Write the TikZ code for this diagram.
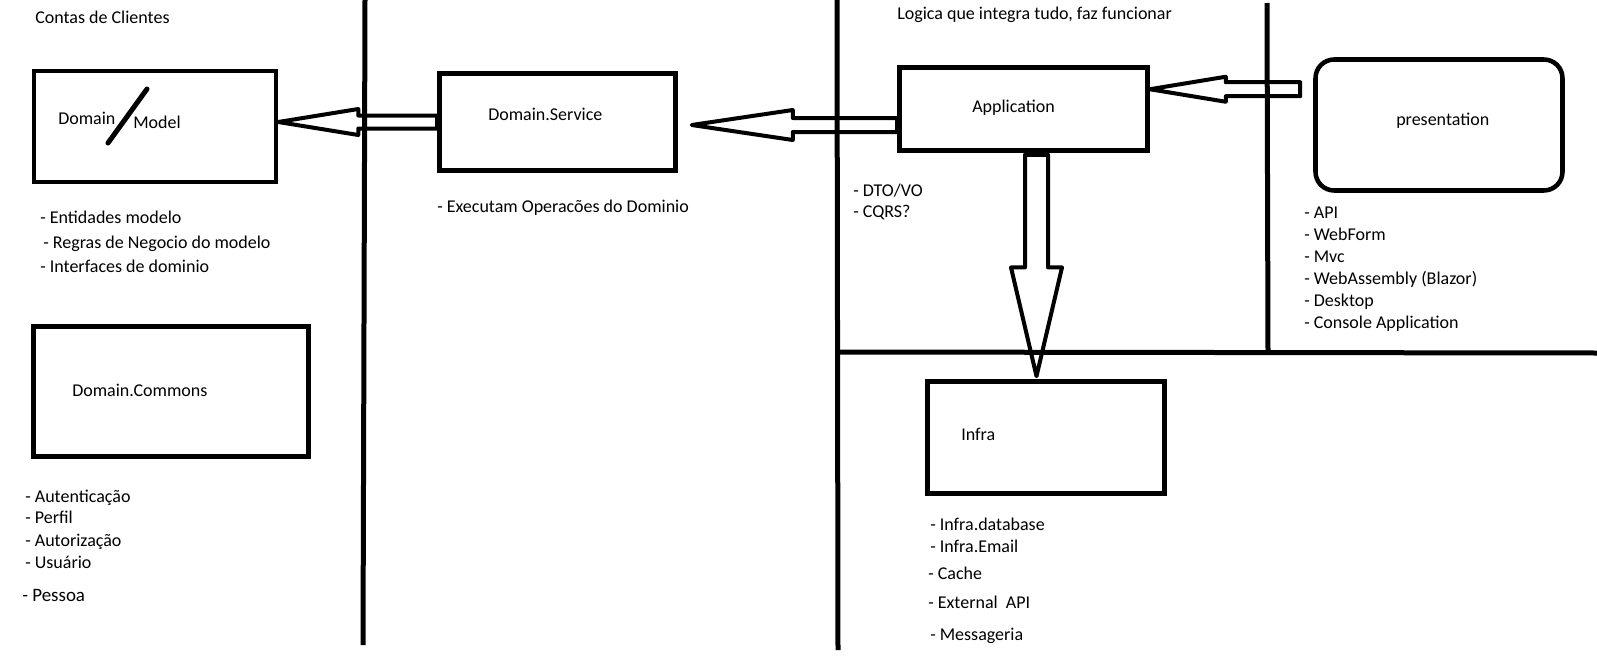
\documentclass[tikz,border=0pt]{standalone}
\usepackage{fontspec}
\setmainfont{Carlito}
\usetikzlibrary{calc}

\newlength\pxu
\setlength\pxu{0.75pt}

\tikzset{
  box/.style={draw, line width=3.4pt, inner sep=0pt},
  txt/.style={anchor=base west, inner sep=0pt, font=\fontsize{13.5}{16}\selectfont},
  hollow/.style={draw, line width=3pt, line join=round},
  wall/.style={line width=3.75pt},
}

\begin{document}
\begin{tikzpicture}[x=0.75pt,y=-0.75pt]
\fill[white] (0,0) rectangle (1597,657);
\useasboundingbox (0,0) rectangle (1597,657);

% walls between the layers
\draw[wall] (365,0) -- (363,645);
\draw[wall] (837,0) -- (838,650);
\draw[wall] (1267,3) -- (1268,352);
\draw[wall] (838,352) -- (1597,353);

% boxes
\node[box, minimum width=242*\pxu, minimum height=111*\pxu] (model) at (155,126.5) {};
\node[box, minimum width=275*\pxu, minimum height=130*\pxu] (commons) at (171,391.5) {};
\node[box, minimum width=236*\pxu, minimum height=97*\pxu] (svc) at (557.5,122) {};
\node[box, minimum width=248*\pxu, minimum height=83*\pxu] (app) at (1023.5,109) {};
\node[box, rounded corners=14pt, minimum width=247*\pxu, minimum height=131*\pxu] (pres) at (1439,125) {};
\node[box, minimum width=237*\pxu, minimum height=112*\pxu] (infra) at (1046,437.5) {};

% box labels
\node[txt] (lmodelA) at (58,124) {Domain};
\node[txt] (lmodelB) at (133,128) {Model};
\draw[line width=3.75pt, line cap=round] (147,89) -- (108,143);
\node[txt] (lcommons) at (72,396) {Domain.Commons};
\node[txt] (lsvc) at (488,120) {Domain.Service};
\node[txt] (lapp) at (972,112) {Application};
\node[txt] (lpres) at (1396,125) {presentation};
\node[txt] (linfra) at (961,440) {Infra};

% hollow arrows
\coordinate (t1) at (model.east |- svc.west);
\draw[hollow] (t1) -- ($(t1)+(80,-13)$) -- ($(t1)+(80,-6.5)$) -- ($(svc.west)+(0,-6.5)$)
  -- ($(svc.west)+(0,6.5)$) -- ($(t1)+(80,6.5)$) -- ($(t1)+(80,13)$) -- cycle;

\coordinate (t2) at ($(svc.east)+(14,3)$);
\draw[hollow] (t2) -- ($(t2)+(101,-15)$) -- ($(t2)+(101,-7)$) -- ($(app.west |- t2)+(0,-7)$)
  -- ($(app.west |- t2)+(0,7)$) -- ($(t2)+(101,7)$) -- ($(t2)+(101,15)$) -- cycle;

\coordinate (t3) at ($(app.north east)+(0,24)$);
\draw[hollow] (t3) -- ($(t3)+(76,-12.5)$) -- ($(t3)+(76,-7)$) -- ($(pres.west |- t3)+(-13,-7)$)
  -- ($(pres.west |- t3)+(-13,7)$) -- ($(t3)+(76,7)$) -- ($(t3)+(76,12.5)$) -- cycle;

\coordinate (s4) at ($(app.south)+(13,0)$);
\coordinate (t4) at ($(s4 |- infra.north)+(0,-3)$);
\draw[hollow] ($(s4)+(-11.5,2)$) -- ($(s4)+(-11.5,114.7)$) -- ($(s4)+(-25.5,114.7)$) -- (t4)
  -- ($(s4)+(25.5,114.7)$) -- ($(s4)+(11.5,114.7)$) -- ($(s4)+(11.5,2)$) -- cycle;

% notes
\node[txt] (title1) at (35,23) {Contas de Clientes};
\node[txt] (title2) at (897,19) {Logica que integra tudo, faz funcionar};

\node[txt] (m1) at (40,223) {- Entidades modelo};
\node[txt] (m2) at (43,248) {- Regras de Negocio do modelo};
\node[txt] (m3) at (40,272) {- Interfaces de dominio};

\node[txt] (c1) at (25,502) {- Autenticação};
\node[txt] (c2) at (25,523) {- Perfil};
\node[txt] (c3) at (25,546) {- Autorização};
\node[txt] (c4) at (25,568) {- Usuário};
\node[txt, font=\fontsize{14.2}{17}\selectfont] (c5) at (22,601) {- Pessoa};

\node[txt] (s1) at (437,212) {- Executam Operacões do Dominio};

\node[txt] (a1) at (853,196) {- DTO/VO};
\node[txt] (a2) at (853,217) {- CQRS?};

\foreach \t [count=\i from 0] in {API, WebForm, Mvc, WebAssembly (Blazor), Desktop, Console Application}
  \node[txt] (p\i) at (1304,218+22*\i) {- \t};

\node[txt] (i1) at (930,530) {- Infra.database};
\node[txt] (i2) at (930,552) {- Infra.Email};
\node[txt] (i3) at (928,579) {- Cache};
\node[txt] (i4) at (928,608) {- External\ \ API};
\node[txt] (i5) at (930,640) {- Messageria};
\end{tikzpicture}
\end{document}
